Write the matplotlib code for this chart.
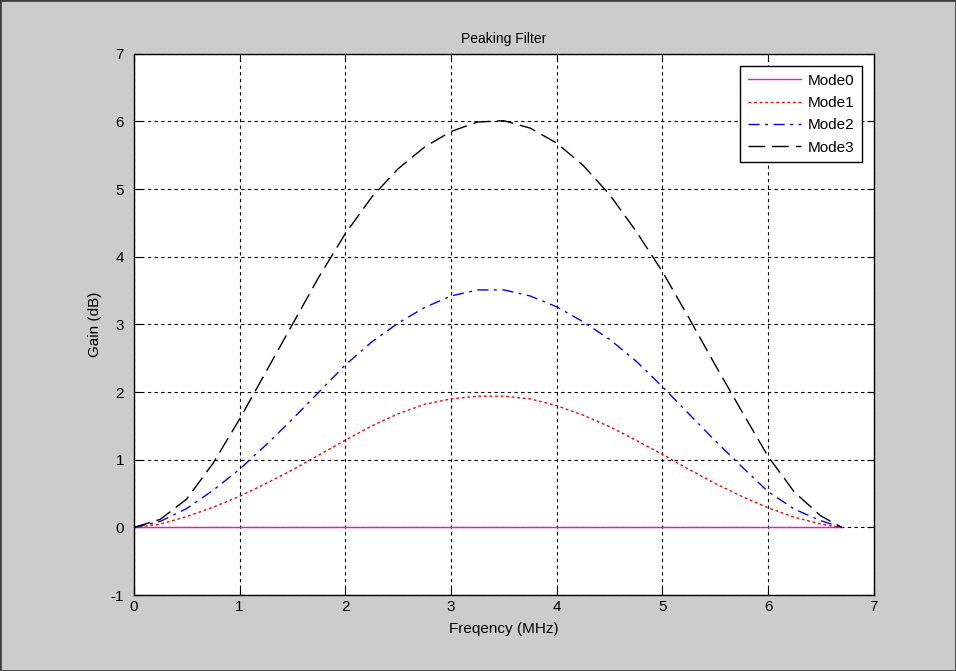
import numpy as np
import matplotlib
matplotlib.use("Agg")
import matplotlib.pyplot as plt
from matplotlib.patches import Rectangle

plt.rcParams['font.family'] = ['Liberation Sans', 'DejaVu Sans']
plt.rcParams['axes.unicode_minus'] = False

# frequency points (MHz)
freq = [0, 0.25, 0.5, 0.75, 1.0, 1.25, 1.5, 1.75, 2.0, 2.25, 2.5, 2.75, 3.0, 3.25,
        3.5, 3.75, 4.0, 4.25, 4.5, 4.75, 5.0, 5.25, 5.5, 5.75, 6.0, 6.25, 6.5, 6.7]

mode0 = [0.0] * len(freq)
mode1 = [0, 0.05, 0.16, 0.30, 0.46, 0.65, 0.85, 1.07, 1.29, 1.50, 1.68, 1.82, 1.90, 1.94,
         1.94, 1.90, 1.80, 1.66, 1.49, 1.29, 1.08, 0.86, 0.65, 0.46, 0.29, 0.15, 0.05, 0]
mode2 = [0, 0.09, 0.28, 0.55, 0.86, 1.22, 1.60, 2.00, 2.40, 2.74, 3.02, 3.25, 3.42, 3.51,
         3.51, 3.42, 3.26, 3.04, 2.78, 2.46, 2.08, 1.68, 1.28, 0.90, 0.53, 0.27, 0.10, 0]
mode3 = [0, 0.12, 0.42, 0.95, 1.60, 2.30, 3.00, 3.70, 4.34, 4.88, 5.30, 5.62, 5.85, 5.99,
         6.01, 5.90, 5.68, 5.35, 4.92, 4.38, 3.78, 3.10, 2.40, 1.72, 1.05, 0.52, 0.17, 0]

labels = ["Mode0", "Mode1", "Mode2", "Mode3"]

fig = plt.figure(figsize=(9.56, 6.71), dpi=100, facecolor="#cccccc")
ax = fig.add_axes([0.140, 0.113, 0.774, 0.807])
fig.patches.append(Rectangle((0, 0), 1, 1, transform=fig.transFigure, fill=False,
                             edgecolor="#404040", lw=2, zorder=10))

ax.plot(freq, mode0, color="#ff00ff", lw=1, label=labels[0])
ax.plot(freq, mode1, color="red", lw=1, linestyle=(0, (2, 2)), label=labels[1])
ax.plot(freq, mode2, color="blue", lw=1, linestyle=(0, (8, 4, 2, 4)), label=labels[2])
ax.plot(freq, mode3, color="black", lw=1, linestyle=(0, (12, 5)), label=labels[3])

ax.set_xlim(0, 7)
ax.set_ylim(-1, 7)
ax.set_xticks(range(0, 8))
ax.set_yticks(range(-1, 8))
ax.grid(True, color="black", linestyle=(0, (3, 3)), lw=0.8)
ax.tick_params(direction="in", top=True, right=True, length=5, labelsize=11)
ax.tick_params(axis="y", pad=7)
for s in ax.spines.values():
    s.set_linewidth(1)

ax.set_title("Peaking Filter", fontsize=10, pad=8)
ax.set_xlabel("Freqency (MHz)", fontsize=11, labelpad=6)
ax.set_ylabel("Gain (dB)", fontsize=11, labelpad=6)

leg = ax.legend(loc="upper right", fontsize=11, fancybox=False, framealpha=1,
                edgecolor="black", handlelength=3.5, borderaxespad=0.8,
                labelspacing=0.55, handletextpad=0.4, borderpad=0.5)
leg.get_frame().set_linewidth(1)

fig.savefig("out.png", dpi=100, facecolor=fig.get_facecolor())
